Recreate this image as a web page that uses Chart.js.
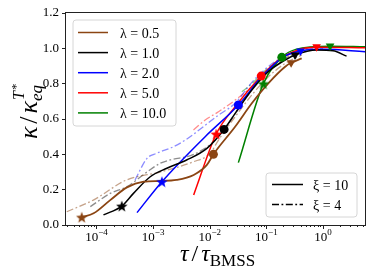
<!DOCTYPE html>
<html>
<head>
<meta charset="utf-8">
<script src="https://cdn.jsdelivr.net/npm/chart.js@4.4.0/dist/chart.umd.min.js"></script>
<style>
  html, body { margin: 0; padding: 0; background: #fff; }
</style>
</head>
<body>
<canvas id="chart" width="374" height="280"></canvas>
<script>
// axis setup
const xMin = 2.9e-5, xMax = 5.5;
const yMin = 0, yMax = 1.2;
const xMajorTicks = [1e-4, 1e-3, 1e-2, 1e-1, 1];
const xMajorExps = ["\u22124", "\u22123", "\u22122", "\u22121", "0"];

const lambdaLabels = ["\u03bb = 0.5", "\u03bb = 1.0", "\u03bb = 2.0", "\u03bb = 5.0", "\u03bb = 10.0"];
const xiLabels = ["\u03be = 10", "\u03be = 4"];
const colors = ["#8b4513", "#000000", "#0000ff", "#ff0000", "#008000"];
const fadedColors = ["rgba(139,69,19,0.5)", "rgba(0,0,0,0.45)", "rgba(0,0,255,0.45)", "rgba(255,0,0,0.45)", "rgba(0,128,0,0.45)"];

// xi = 10 (solid), [tau, kappa]
const xi10_l05 = [[5.5e-5,0.044],[8.9e-5,0.066],[1.75e-4,0.141],[3.45e-4,0.213],[6.8e-4,0.245],[1.33e-3,0.249],[2.6e-3,0.255],[5.2e-3,0.283],[8.9e-3,0.34],[0.0116,0.40],[0.028,0.556],[0.0553,0.689],[0.108,0.802],[0.214,0.896],[0.273,0.918],[0.42,0.943]];
const xi10_l1 = [[1.33e-4,0.057],[2.8e-4,0.107],[4.5e-4,0.179],[8.9e-4,0.273],[1.75e-3,0.321],[3.9e-3,0.368],[8.9e-3,0.434],[0.0179,0.541],[0.0281,0.632],[0.0553,0.764],[0.108,0.868],[0.214,0.934],[0.32,0.962],[0.77,0.99],[1.5,0.986],[2.6,0.956]];
const xi10_l2 = [[5.2e-4,0.07],[1.43e-3,0.245],[8.3e-3,0.50],[0.032,0.679],[0.083,0.84],[0.2,0.952],[0.5,0.99],[1.0,0.995],[5.5,0.981]];
const xi10_l5 = [[5.2e-3,0.17],[0.013,0.515],[0.0281,0.67],[0.081,0.843],[0.163,0.934],[0.4,0.995],[0.77,1.006],[5.5,1.003]];
const xi10_l10 = [[0.032,0.353],[0.0885,0.80],[0.187,0.949],[0.33,0.994],[1.33,1.012],[5.5,1.009]];

// xi = 4 (dash-dot)
const xi4_l05 = [[2.99e-5,0.075],[8.8e-5,0.141],[3.41e-4,0.255],[1.33e-3,0.30],[5.16e-3,0.358],[0.0102,0.406],[0.01426,0.481],[0.0281,0.613],[0.0553,0.736],[0.108,0.839],[0.214,0.915],[0.42,0.962]];
const xi4_l1 = [[7.8e-5,0.104],[1.75e-4,0.179],[3.45e-4,0.217],[7.8e-4,0.30],[1.33e-3,0.349],[2.0e-3,0.368],[5.2e-3,0.40],[0.0115,0.47],[0.022,0.58],[0.05,0.75],[0.1,0.86],[0.25,0.955],[0.5,0.985]];
const xi4_l2 = [[4.8e-4,0.255],[7.8e-4,0.377],[1.16e-3,0.406],[2.3e-3,0.443],[3.7e-3,0.481],[0.01426,0.622],[0.028,0.689],[0.06,0.82],[0.15,0.93],[0.4,0.99],[1.0,1.0]];
const xi4_l5 = [[5.16e-3,0.538],[8.3e-3,0.594],[0.01426,0.641],[0.0281,0.707],[0.0553,0.783],[0.1,0.87],[0.2,0.94],[0.5,1.0],[1.0,1.01]];
const xi4_l10 = [[0.0368,0.754],[0.0553,0.80],[0.1,0.88],[0.2,0.95],[0.5,1.0],[1.0,1.01]];

// markers per lambda: star, circle, down-triangle
const starPts = [[5.5e-5,0.044],[2.8e-4,0.107],[1.43e-3,0.245],[0.013,0.515],[0.0885,0.80]];
const circlePts = [[0.0116,0.40],[0.0179,0.541],[0.032,0.679],[0.081,0.843],[0.187,0.949]];
const trianglePts = [[0.273,0.918],[0.32,0.962],[0.4,0.985],[0.77,1.009],[1.33,1.013]];

const solidSeries = [xi10_l05, xi10_l1, xi10_l2, xi10_l5, xi10_l10];
const dashSeries = [xi4_l05, xi4_l1, xi4_l2, xi4_l5, xi4_l10];

const SERIF = "'Liberation Serif', 'DejaVu Serif', serif";
const DASHDOT = [7, 2.5, 1.8, 2.5];

function toXY(pts) {
  return pts.map(([x, y]) => ({ x, y }));
}

// filled five point star used as point style
function makeStar(color, size) {
  const c = document.createElement("canvas");
  c.width = size; c.height = size;
  const g = c.getContext("2d");
  const cx = size / 2, cy = size / 2 + 0.6, ro = size / 2, ri = ro * 0.42;
  g.beginPath();
  for (let i = 0; i < 10; i++) {
    const r = i % 2 === 0 ? ro : ri;
    const a = -Math.PI / 2 + i * Math.PI / 5;
    g.lineTo(cx + r * Math.cos(a), cy + r * Math.sin(a));
  }
  g.closePath();
  g.fillStyle = color;
  g.fill();
  return c;
}

const datasets = [];
dashSeries.forEach((pts, i) => {
  datasets.push({
    data: toXY(pts), borderColor: fadedColors[i], borderWidth: 1.3,
    borderDash: DASHDOT, pointRadius: 0, cubicInterpolationMode: "monotone", order: 3
  });
});
solidSeries.forEach((pts, i) => {
  datasets.push({
    data: toXY(pts), borderColor: colors[i], borderWidth: i === 0 ? 1.8 : 1.5,
    pointRadius: 0, cubicInterpolationMode: "monotone", order: 2
  });
});
colors.forEach((col, i) => {
  datasets.push({
    data: toXY([starPts[i], circlePts[i], trianglePts[i]]),
    showLine: false,
    pointStyle: [makeStar(col, 12), "circle", "triangle"],
    pointRotation: [0, 0, 180],
    pointRadius: [6, 4.5, 5],
    pointBackgroundColor: col, pointBorderColor: col, pointBorderWidth: 0,
    order: 1
  });
});

// draw rich text pieces left to right from (x, baseline y)
function drawPieces(ctx, pieces, x, y) {
  pieces.forEach(p => {
    ctx.font = p.font;
    ctx.fillText(p.text, x, y + (p.dy || 0));
    x += ctx.measureText(p.text).width + (p.gap || 0);
  });
}
function piecesWidth(ctx, pieces) {
  let w = 0;
  pieces.forEach(p => { ctx.font = p.font; w += ctx.measureText(p.text).width + (p.gap || 0); });
  return w;
}

const decor = {
  id: "decor",
  afterDraw(chart) {
    const { ctx, chartArea: a, scales: { x } } = chart;
    ctx.save();
    ctx.fillStyle = "#000";
    ctx.textBaseline = "alphabetic";

    // frame
    ctx.strokeStyle = "#222";
    ctx.lineWidth = 1;
    ctx.strokeRect(a.left - 0.5, a.top - 0.5, a.right - a.left + 1, a.bottom - a.top + 1);

    // x ticks, major and minor
    ctx.beginPath();
    for (let d = -5; d <= 0; d++) {
      for (let k = 1; k <= 9; k++) {
        const v = k * Math.pow(10, d);
        if (v < xMin || v > xMax) continue;
        const px = Math.round(x.getPixelForValue(v)) + 0.5;
        ctx.moveTo(px, a.bottom);
        ctx.lineTo(px, a.bottom + (k === 1 ? 4 : 2));
      }
    }
    ctx.stroke();

    // x tick labels 10^n
    xMajorTicks.forEach((v, i) => {
      const pieces = [
        { text: "10", font: "13px " + SERIF },
        { text: xMajorExps[i], font: "9px " + SERIF, dy: -6 }
      ];
      const w = piecesWidth(ctx, pieces);
      drawPieces(ctx, pieces, x.getPixelForValue(v) - w / 2, a.bottom + 16);
    });

    // x title
    const xt = [
      { text: "\u03c4", font: "italic 24px " + SERIF, gap: 3 },
      { text: "/", font: "24px " + SERIF, gap: 3 },
      { text: "\u03c4", font: "italic 24px " + SERIF },
      { text: "BMSS", font: "17px " + SERIF, dy: 5 }
    ];
    const xw = piecesWidth(ctx, xt);
    drawPieces(ctx, xt, (a.left + a.right) / 2 - xw / 2 + 2, 261);

    // y title, rotated
    const yt = [
      { text: "\u03ba", font: "italic 26px " + SERIF, gap: 3 },
      { text: "/", font: "26px " + SERIF, gap: 3 },
      { text: "\u03ba", font: "italic 26px " + SERIF },
      { text: "eq", font: "italic 17px " + SERIF, dy: 5 }
    ];
    const yw = piecesWidth(ctx, yt);
    ctx.save();
    ctx.translate(37, (a.top + a.bottom) / 2 - 7);
    ctx.rotate(-Math.PI / 2);
    drawPieces(ctx, yt, -yw / 2, 0);
    // superscript above the eq subscript
    const w3 = piecesWidth(ctx, yt.slice(0, 3));
    drawPieces(ctx, [
      { text: "T", font: "italic 16px " + SERIF, gap: 1 },
      { text: "*", font: "13px " + SERIF, dy: -4 }
    ], -yw / 2 + w3 + 1, -13);
    ctx.restore();

    // legend for lambda
    drawBox(ctx, 73, 20, 103, 106);
    ctx.font = "14px " + SERIF;
    lambdaLabels.forEach((t, i) => {
      const yy = 32.5 + i * 20.1;
      ctx.strokeStyle = colors[i];
      ctx.lineWidth = 1.5;
      ctx.setLineDash([]);
      ctx.beginPath(); ctx.moveTo(78, yy); ctx.lineTo(108, yy); ctx.stroke();
      ctx.fillStyle = "#000";
      ctx.fillText(t, 120, yy + 5);
    });

    // legend for xi
    drawBox(ctx, 266, 173, 91, 44);
    xiLabels.forEach((t, i) => {
      const yy = 184.5 + i * 20;
      ctx.strokeStyle = "#000";
      ctx.lineWidth = 1.5;
      ctx.setLineDash(i === 0 ? [] : DASHDOT);
      ctx.beginPath(); ctx.moveTo(272, yy); ctx.lineTo(303, yy); ctx.stroke();
      ctx.fillStyle = "#000";
      ctx.font = "14px " + SERIF;
      ctx.fillText(t, 313, yy + 5);
    });
    ctx.setLineDash([]);
    ctx.restore();
  }
};

function drawBox(ctx, x, y, w, h) {
  const r = 3;
  ctx.beginPath();
  ctx.moveTo(x + r, y);
  ctx.arcTo(x + w, y, x + w, y + h, r);
  ctx.arcTo(x + w, y + h, x, y + h, r);
  ctx.arcTo(x, y + h, x, y, r);
  ctx.arcTo(x, y, x + w, y, r);
  ctx.closePath();
  ctx.fillStyle = "rgba(255,255,255,0.85)";
  ctx.fill();
  ctx.strokeStyle = "#d6d6d6";
  ctx.lineWidth = 1;
  ctx.setLineDash([]);
  ctx.stroke();
}

new Chart(document.getElementById("chart"), {
  type: "line",
  data: { datasets },
  options: {
    responsive: false,
    animation: false,
    events: [],
    layout: { padding: { top: 13, right: 9, left: 0, bottom: 0 } },
    plugins: { legend: { display: false }, tooltip: { enabled: false } },
    scales: {
      x: {
        type: "logarithmic", min: xMin, max: xMax,
        grid: { display: false }, border: { display: false },
        ticks: { display: false },
        afterFit: s => { s.height = 55; }
      },
      y: {
        min: yMin, max: yMax,
        border: { display: false },
        grid: { drawOnChartArea: false, drawTicks: true, tickLength: 4, tickColor: "#222" },
        ticks: {
          stepSize: 0.2, padding: 3, color: "#000",
          font: { family: SERIF, size: 13 },
          callback: v => v.toFixed(1)
        },
        afterFit: s => { s.width = 66; }
      }
    }
  },
  plugins: [decor]
});
</script>
</body>
</html>
